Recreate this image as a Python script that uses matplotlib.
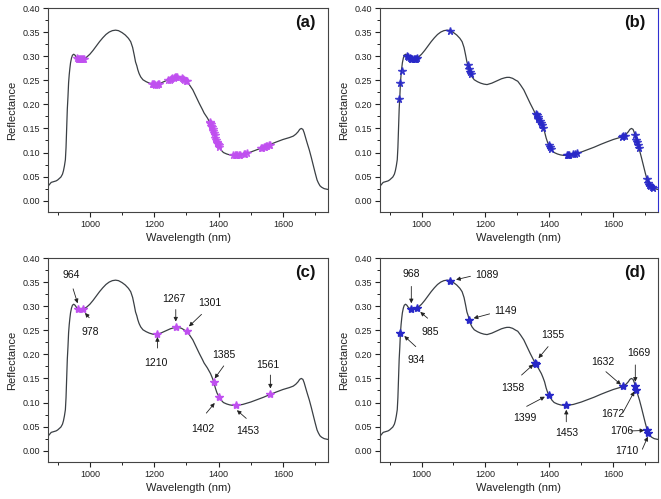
import matplotlib
matplotlib.use("Agg")
import matplotlib.pyplot as plt
from matplotlib.ticker import MultipleLocator

plt.rcParams['font.family'] = ['Liberation Sans', 'DejaVu Sans']

# ---- mean spectrum (wavelength nm, reflectance) ----
wl = [870, 875, 880, 885, 890, 895, 900, 905, 910, 915, 918, 921, 924, 926, 928,
      930, 932, 934, 936, 938, 940, 943, 946, 950, 954, 958, 963, 968, 973, 978,
      985, 990, 1000, 1010, 1020, 1030, 1040, 1050, 1060, 1070, 1080, 1089, 1100,
      1110, 1120, 1127, 1133, 1138, 1142, 1146, 1149, 1153, 1158, 1165, 1175, 1185,
      1195, 1205, 1210, 1220, 1230, 1240, 1250, 1260, 1267, 1275, 1285, 1295, 1301,
      1310, 1320, 1330, 1340, 1350, 1355, 1360, 1365, 1370, 1375, 1380, 1385, 1390,
      1395, 1399, 1402, 1408, 1415, 1425, 1435, 1445, 1453, 1465, 1475, 1485, 1500,
      1520, 1540, 1561, 1580, 1600, 1620, 1632, 1640, 1647, 1652, 1657, 1662, 1666,
      1669, 1672, 1676, 1682, 1688, 1694, 1700, 1706, 1710, 1715, 1720, 1728, 1735,
      1742]
refl = [0.030, 0.034, 0.038, 0.039, 0.040, 0.041, 0.043, 0.046, 0.049, 0.055, 0.062,
        0.072, 0.085, 0.110, 0.150, 0.190, 0.215, 0.245, 0.262, 0.275, 0.286, 0.296,
        0.302, 0.304, 0.302, 0.298, 0.295, 0.294, 0.294, 0.294, 0.296, 0.298, 0.304,
        0.312, 0.321, 0.330, 0.338, 0.345, 0.350, 0.353, 0.354, 0.353, 0.349, 0.344,
        0.337, 0.330, 0.318, 0.302, 0.288, 0.280, 0.272, 0.264, 0.257, 0.251, 0.247,
        0.244, 0.242, 0.241, 0.242, 0.244, 0.247, 0.250, 0.253, 0.255, 0.256, 0.256,
        0.254, 0.250, 0.248, 0.240, 0.230, 0.216, 0.202, 0.189, 0.182, 0.177, 0.172,
        0.166, 0.160, 0.152, 0.143, 0.130, 0.120, 0.115, 0.112, 0.105, 0.100, 0.097,
        0.095, 0.094, 0.094, 0.095, 0.096, 0.098, 0.101, 0.106, 0.111, 0.117, 0.122,
        0.127, 0.131, 0.134, 0.138, 0.143, 0.148, 0.150, 0.148, 0.141, 0.134, 0.127,
        0.118, 0.105, 0.090, 0.074, 0.058, 0.043, 0.037, 0.031, 0.028, 0.025, 0.024,
        0.023]

# ---- (a) selected wavelengths (method 1) ----
a_wl = [960, 963, 966, 969, 972, 975, 978, 981,
        1192, 1196, 1200, 1204, 1208, 1212, 1216,
        1244, 1248, 1252, 1256, 1260, 1264, 1268, 1272,
        1286, 1290, 1294, 1298, 1301,
        1372, 1374, 1376, 1378, 1380, 1382, 1384, 1386, 1388, 1390, 1392, 1394, 1396, 1398, 1400, 1402,
        1446, 1450, 1454, 1458, 1462, 1466, 1478, 1483, 1488,
        1532, 1536, 1540, 1544, 1548, 1552, 1556, 1560]
a_r = [0.296, 0.295, 0.294, 0.294, 0.294, 0.294, 0.294, 0.294,
       0.243, 0.242, 0.242, 0.241, 0.241, 0.242, 0.243,
       0.250, 0.251, 0.252, 0.254, 0.255, 0.256, 0.256, 0.256,
       0.254, 0.253, 0.251, 0.249, 0.248,
       0.164, 0.161, 0.159, 0.155, 0.152, 0.149, 0.145, 0.141, 0.137, 0.131, 0.127, 0.122, 0.119, 0.117, 0.115, 0.112,
       0.094, 0.094, 0.094, 0.094, 0.095, 0.095, 0.096, 0.097, 0.098,
       0.109, 0.110, 0.111, 0.112, 0.113, 0.114, 0.115, 0.116]

# ---- (b) selected wavelengths (method 2) ----
b_wl = [930, 934, 938,
        955, 959, 963, 967, 971, 975, 979, 983, 986,
        1090,
        1146, 1148, 1151, 1154,
        1357, 1360, 1363, 1366, 1370, 1373, 1376, 1380,
        1398, 1402, 1406,
        1454, 1458, 1462, 1475, 1480, 1486,
        1627, 1632, 1636,
        1669, 1672, 1675, 1678, 1681,
        1707, 1710, 1713, 1716, 1720, 1724]
b_r = [0.211, 0.245, 0.270,
       0.300, 0.298, 0.296, 0.295, 0.294, 0.294, 0.294, 0.295, 0.296,
       0.353,
       0.282, 0.274, 0.268, 0.262,
       0.180, 0.177, 0.174, 0.170, 0.166, 0.162, 0.157, 0.151,
       0.116, 0.111, 0.107,
       0.094, 0.094, 0.095, 0.096, 0.097, 0.098,
       0.133, 0.134, 0.135,
       0.136, 0.127, 0.121, 0.116, 0.110,
       0.045, 0.037, 0.033, 0.030, 0.028, 0.026]

# ---- (c) optimal wavelengths, method 1 ----
c_wl = [964, 978, 1210, 1267, 1301, 1385, 1402, 1453, 1561]
c_r = [0.294, 0.294, 0.242, 0.256, 0.248, 0.143, 0.112, 0.094, 0.117]
c_lbl = ['964', '978', '1210', '1267', '1301', '1385', '1402', '1453', '1561']
c_txt = [(943, 0.365), (1000, 0.247), (1205, 0.182), (1261, 0.315), (1372, 0.306),
         (1416, 0.199), (1352, 0.046), (1491, 0.040), (1553, 0.178)]
c_tail = [(948, 0.336), (998, 0.276), (1210, 0.213), (1267, 0.293), (1347, 0.283),
          (1416, 0.176), (1362, 0.078), (1486, 0.067), (1561, 0.157)]
c_head = [(962, 0.306), (985, 0.286), (1210, 0.236), (1267, 0.268), (1308, 0.258),
          (1388, 0.150), (1388, 0.099), (1457, 0.084), (1561, 0.129)]

# ---- (d) optimal wavelengths, method 2 ----
d_wl = [934, 968, 985, 1089, 1149, 1355, 1358, 1399, 1453, 1632, 1669, 1672, 1706, 1710]
d_r = [0.245, 0.294, 0.296, 0.353, 0.272, 0.182, 0.179, 0.116, 0.094, 0.134, 0.134,
       0.127, 0.043, 0.037]
d_lbl = ['934', '968', '985', '1089', '1149', '1355', '1358', '1399', '1453', '1632',
         '1669', '1672', '1706', '1710']
d_txt = [(982, 0.189), (967, 0.367), (1027, 0.247), (1205, 0.365), (1262, 0.289),
         (1410, 0.241), (1285, 0.130), (1324, 0.067), (1455, 0.036), (1567, 0.185),
         (1679, 0.202), (1598, 0.076), (1627, 0.040), (1644, 0.000)]
d_tail = [(982, 0.216), (968, 0.341), (1019, 0.275), (1153, 0.362), (1213, 0.284),
          (1396, 0.216), (1313, 0.157), (1329, 0.092), (1453, 0.060), (1577, 0.164),
          (1669, 0.178), (1631, 0.080), (1655, 0.041), (1691, 0.003)]
d_head = [(946, 0.238), (968, 0.306), (996, 0.288), (1108, 0.355), (1163, 0.275),
          (1366, 0.192), (1350, 0.179), (1386, 0.112), (1453, 0.085), (1624, 0.137),
          (1669, 0.143), (1666, 0.123), (1697, 0.042), (1708, 0.029)]

panel_tags = ['(a)', '(b)', '(c)', '(d)']
xticks = [1000, 1200, 1400, 1600]
yticks = [0.00, 0.05, 0.10, 0.15, 0.20, 0.25, 0.30, 0.35, 0.40]

VIOLET = '#c050f0'
BLUE = '#2828c8'
LINE = '#3a3f44'

fig = plt.figure(figsize=(6.61, 4.99), dpi=100)
W, H = 661.0, 499.0
boxes = [(48, 8, 328, 212), (380, 8, 658, 212), (48, 258, 328, 462), (380, 258, 658, 462)]
axes = []
for (l, t, r, b) in boxes:
    axes.append(fig.add_axes([l / W, 1 - b / H, (r - l) / W, (b - t) / H]))

for i, ax in enumerate(axes):
    ax.plot(wl, refl, color=LINE, lw=0.9, zorder=2)
    ax.set_xlim(870, 1740)
    ax.set_ylim(-0.0235, 0.40)
    ax.set_xticks(xticks)
    ax.set_yticks(yticks)
    ax.set_yticklabels([f'{v:.2f}' for v in yticks])
    ax.xaxis.set_minor_locator(MultipleLocator(100))
    ax.yaxis.set_minor_locator(MultipleLocator(0.025))
    ax.tick_params(which='major', direction='out', length=3.5, width=0.8,
                   labelsize=6.5, pad=2, colors='#222222')
    ax.tick_params(which='minor', direction='out', length=2, width=0.7, colors='#222222')
    ax.tick_params(top=False, right=False, which='both')
    for s in ax.spines.values():
        s.set_color('#444444')
        s.set_linewidth(0.8)
    ax.set_xlabel('Wavelength (nm)', fontsize=8, labelpad=3, color='#222222')
    ax.set_ylabel('Reflectance', fontsize=8, labelpad=4, color='#222222')
    ax.text(0.955, 0.93, panel_tags[i], transform=ax.transAxes, ha='right', va='center',
            fontsize=12, fontweight='bold', color='#111111')

axes[1].spines['right'].set_color('#3030d0')

ms_small = 5.5
axes[0].plot(a_wl, a_r, ls='none', marker='*', ms=ms_small, color=VIOLET, mec=VIOLET,
             alpha=0.85, zorder=3)
axes[1].plot(b_wl, b_r, ls='none', marker='*', ms=ms_small, color=BLUE, mec=BLUE,
             alpha=0.85, zorder=3)
axes[2].plot(c_wl, c_r, ls='none', marker='*', ms=6, color=VIOLET, mec=VIOLET, zorder=3)
axes[3].plot(d_wl, d_r, ls='none', marker='*', ms=6, color=BLUE, mec=BLUE, zorder=3)

def annotate(ax, labels, txt, tail, head):
    for lb, tp, tl, hd in zip(labels, txt, tail, head):
        ax.text(tp[0], tp[1], lb, ha='center', va='center', fontsize=7.5, color='#111111')
        ax.annotate('', xy=hd, xytext=tl,
                    arrowprops=dict(arrowstyle='-|>', color='#222222', lw=0.6,
                                    mutation_scale=6, shrinkA=0, shrinkB=0))

annotate(axes[2], c_lbl, c_txt, c_tail, c_head)
annotate(axes[3], d_lbl, d_txt, d_tail, d_head)

fig.savefig('out.png', dpi=100)
